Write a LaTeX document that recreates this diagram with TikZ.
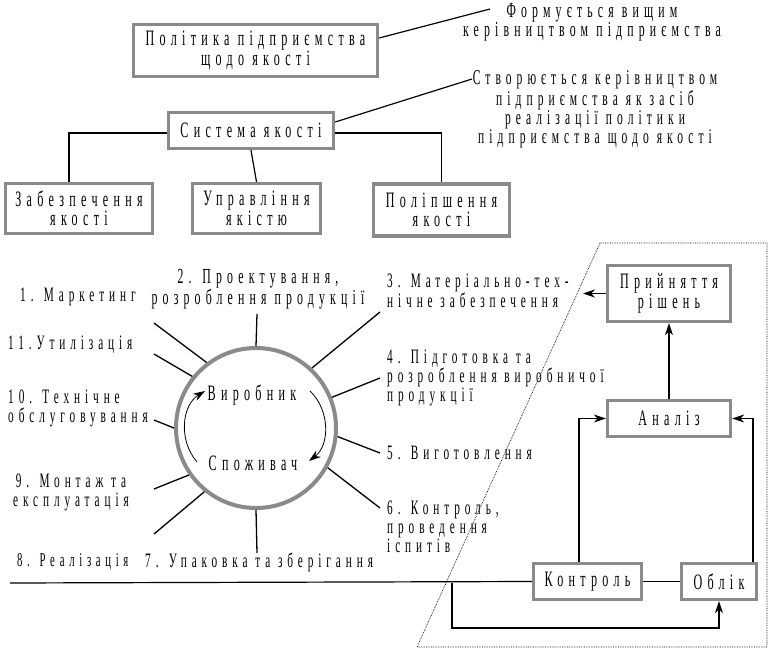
\documentclass[tikz,border=0pt]{standalone}
\usepackage{fontspec}
\setmainfont{Liberation Serif}[FakeStretch=0.55,LetterSpace=24]
\usetikzlibrary{arrows.meta,calc}
\definecolor{rim}{RGB}{138,138,138}
\newcommand\labfont{\fontsize{22}{19}\selectfont}
\newcommand\stagefont{\fontsize{20.5}{19}\selectfont}

\begin{document}
\begin{tikzpicture}[x=1pt,y=-1pt,
    every node/.style={font=\labfont, inner sep=0pt},
    box/.style={draw=rim, line width=3.4pt, fill=white, align=center},
    ray/.style={line width=1.3pt},
    link/.style={line width=1.2pt},
    arr/.style={-{Stealth[length=12pt,width=8pt]}, line width=1.1pt},
    lab/.style={align=left, anchor=west, font=\stagefont}]
    \useasboundingbox (0,0) rectangle (769,650);
    % boxes at the top
    \node [box, minimum width=244, minimum height=52] (polit) at (255.5,50.5) {Політика підприємства\\щодо якості};
    \node [box, minimum width=165, minimum height=36] (sys) at (251,130.5) {Система якості};
    \node [box, minimum width=147, minimum height=50] (zab) at (79,208.5) {Забезпечення\\якості};
    \node [box, minimum width=128, minimum height=50] (upr) at (256.5,208.5) {Управління\\якістю};
    \node [box, minimum width=136, minimum height=52] (pol) at (441.5,210) {Поліпшення\\якості};
    % notes
    \node [align=center, font=\fontsize{21.5}{19}\selectfont] (formnote) at (592,22.5) {Формується вищим\\керівництвом підприємства};
    \node [align=center, font=\fontsize{21}{18.3}\selectfont] (sysnote) at (595,109.5) {Створюється керівництвом\\підприємства як засіб\\реалізації політики\\підприємства щодо якості};
    \coordinate (formtip) at (490,9);
    \coordinate (systip) at (472,79);
    \draw [link] ([yshift=12.5pt]polit.east) -- (formtip);
    \draw [link] ([yshift=8.5pt]sys.east) -- (systip);
    % tree
    \draw [link] ([yshift=-2.5pt]sys.west) -| ([xshift=-10pt]zab.north);
    \draw [link] ([yshift=-2.5pt]sys.east) -| (pol.north);
    \draw [link] (sys.south) -- (upr.north);
    % circle
    \node [draw=rim, line width=4pt, circle, minimum size=160] (cyc) at (256,428) {};
    \node (maker) at (252,395) {Виробник};
    \node (user) at (253,463) {Споживач};
    \draw [arr, line width=0.8pt] (197,462) .. controls (178,440) and (182,405) .. (205,391);
    \draw [arr, line width=0.8pt] (310,391) .. controls (330,410) and (330,445) .. (309,461);
    % rays
    \coordinate (r1) at (154,323);
    \coordinate (r2) at (257,314);
    \coordinate (r3) at (380,312);
    \coordinate (r4) at (380,378);
    \coordinate (r5) at (380,453);
    \coordinate (r6) at (380,508);
    \coordinate (r7) at (257,553);
    \coordinate (r8) at (154,534);
    \coordinate (r9) at (154,489);
    \coordinate (r10) at (154,420);
    \coordinate (r11) at (154,354);
    \draw [ray] (cyc.127.6) -- (r1);
    \draw [ray] (cyc.90) -- (r2);
    \draw [ray] (cyc.47.9) -- (r3);
    \draw [ray] (cyc.22.6) -- (r4);
    \draw [ray] (cyc.-6.3) -- (r5);
    \draw [ray] (cyc.-29) -- (r6);
    \draw [ray] (cyc.270) -- (r7);
    \draw [ray] (cyc.231) -- (r8);
    \draw [ray] (cyc.215) -- (r9);
    \draw [ray] (cyc.180) -- (r10);
    \draw [ray] (cyc.141) -- (r11);
    % stages
    \node [lab] (s1) at (20,297) {1. Маркетинг};
    \node [align=center, font=\fontsize{21.5}{16}\selectfont] (s2) at (258,289) {2. Проектування,\\розроблення продукції};
    \node [lab] (s3) at (387,291) {3. Матеріально-тех-\\нічне забезпечення};
    \node [lab] (s4) at (387,378) {4. Підготовка та\\розроблення виробничої\\продукції};
    \node [lab] (s5) at (387,453) {5. Виготовлення};
    \node [lab] (s6) at (387,527) {6. Контроль,\\проведення\\іспитів};
    \node [lab] (s7) at (145,562) {7. Упаковка та зберігання};
    \node [lab, font=\fontsize{19.5}{19}\selectfont] (s8) at (17,562) {8. Реалізація};
    \node [lab, align=center, anchor=center] (s9) at (71,492.5) {9. Монтаж та\\експлуатація};
    \node [lab] (s10) at (8,408.5) {10. Технічне\\обслуговування};
    \node [lab] (s11) at (8,345) {11.Утилізація};
    % control loop
    \draw [densely dotted, line width=0.7pt] (600,243) -- (767,243) -- (767,647) -- (417,647) -- cycle;
    \node [box, minimum width=123, minimum height=56] (pryin) at (669,293.5) {Прийняття\\рішень};
    \node [box, minimum width=123, minimum height=36] (anal) at (669,418.5) {Аналіз};
    \node [box, minimum width=108, minimum height=36] (kontr) at (587.5,581.5) {Контроль};
    \node [box, minimum width=75, minimum height=36] (oblik) at (719,581.5) {Облік};
    \coordinate (decide) at (583,293.5);
    \coordinate (feed) at (10,583);
    \coordinate (branch) at (452,583);
    \coordinate (loopbot) at (452,628);
    \draw [arr] (pryin.west) -- (decide);
    \draw [arr] (anal.north) -- (pryin.south);
    \draw [arr] ([xshift=-8.5pt]kontr.north) |- (anal.west);
    \draw [arr] ([xshift=34pt]oblik.north) |- (anal.east);
    \draw [link] (kontr.east) -- (oblik.west);
    \draw [link] (feed) -- (kontr.west);
    \draw [arr] (branch) -- (loopbot) -| (oblik.south);
\end{tikzpicture}
\end{document}
